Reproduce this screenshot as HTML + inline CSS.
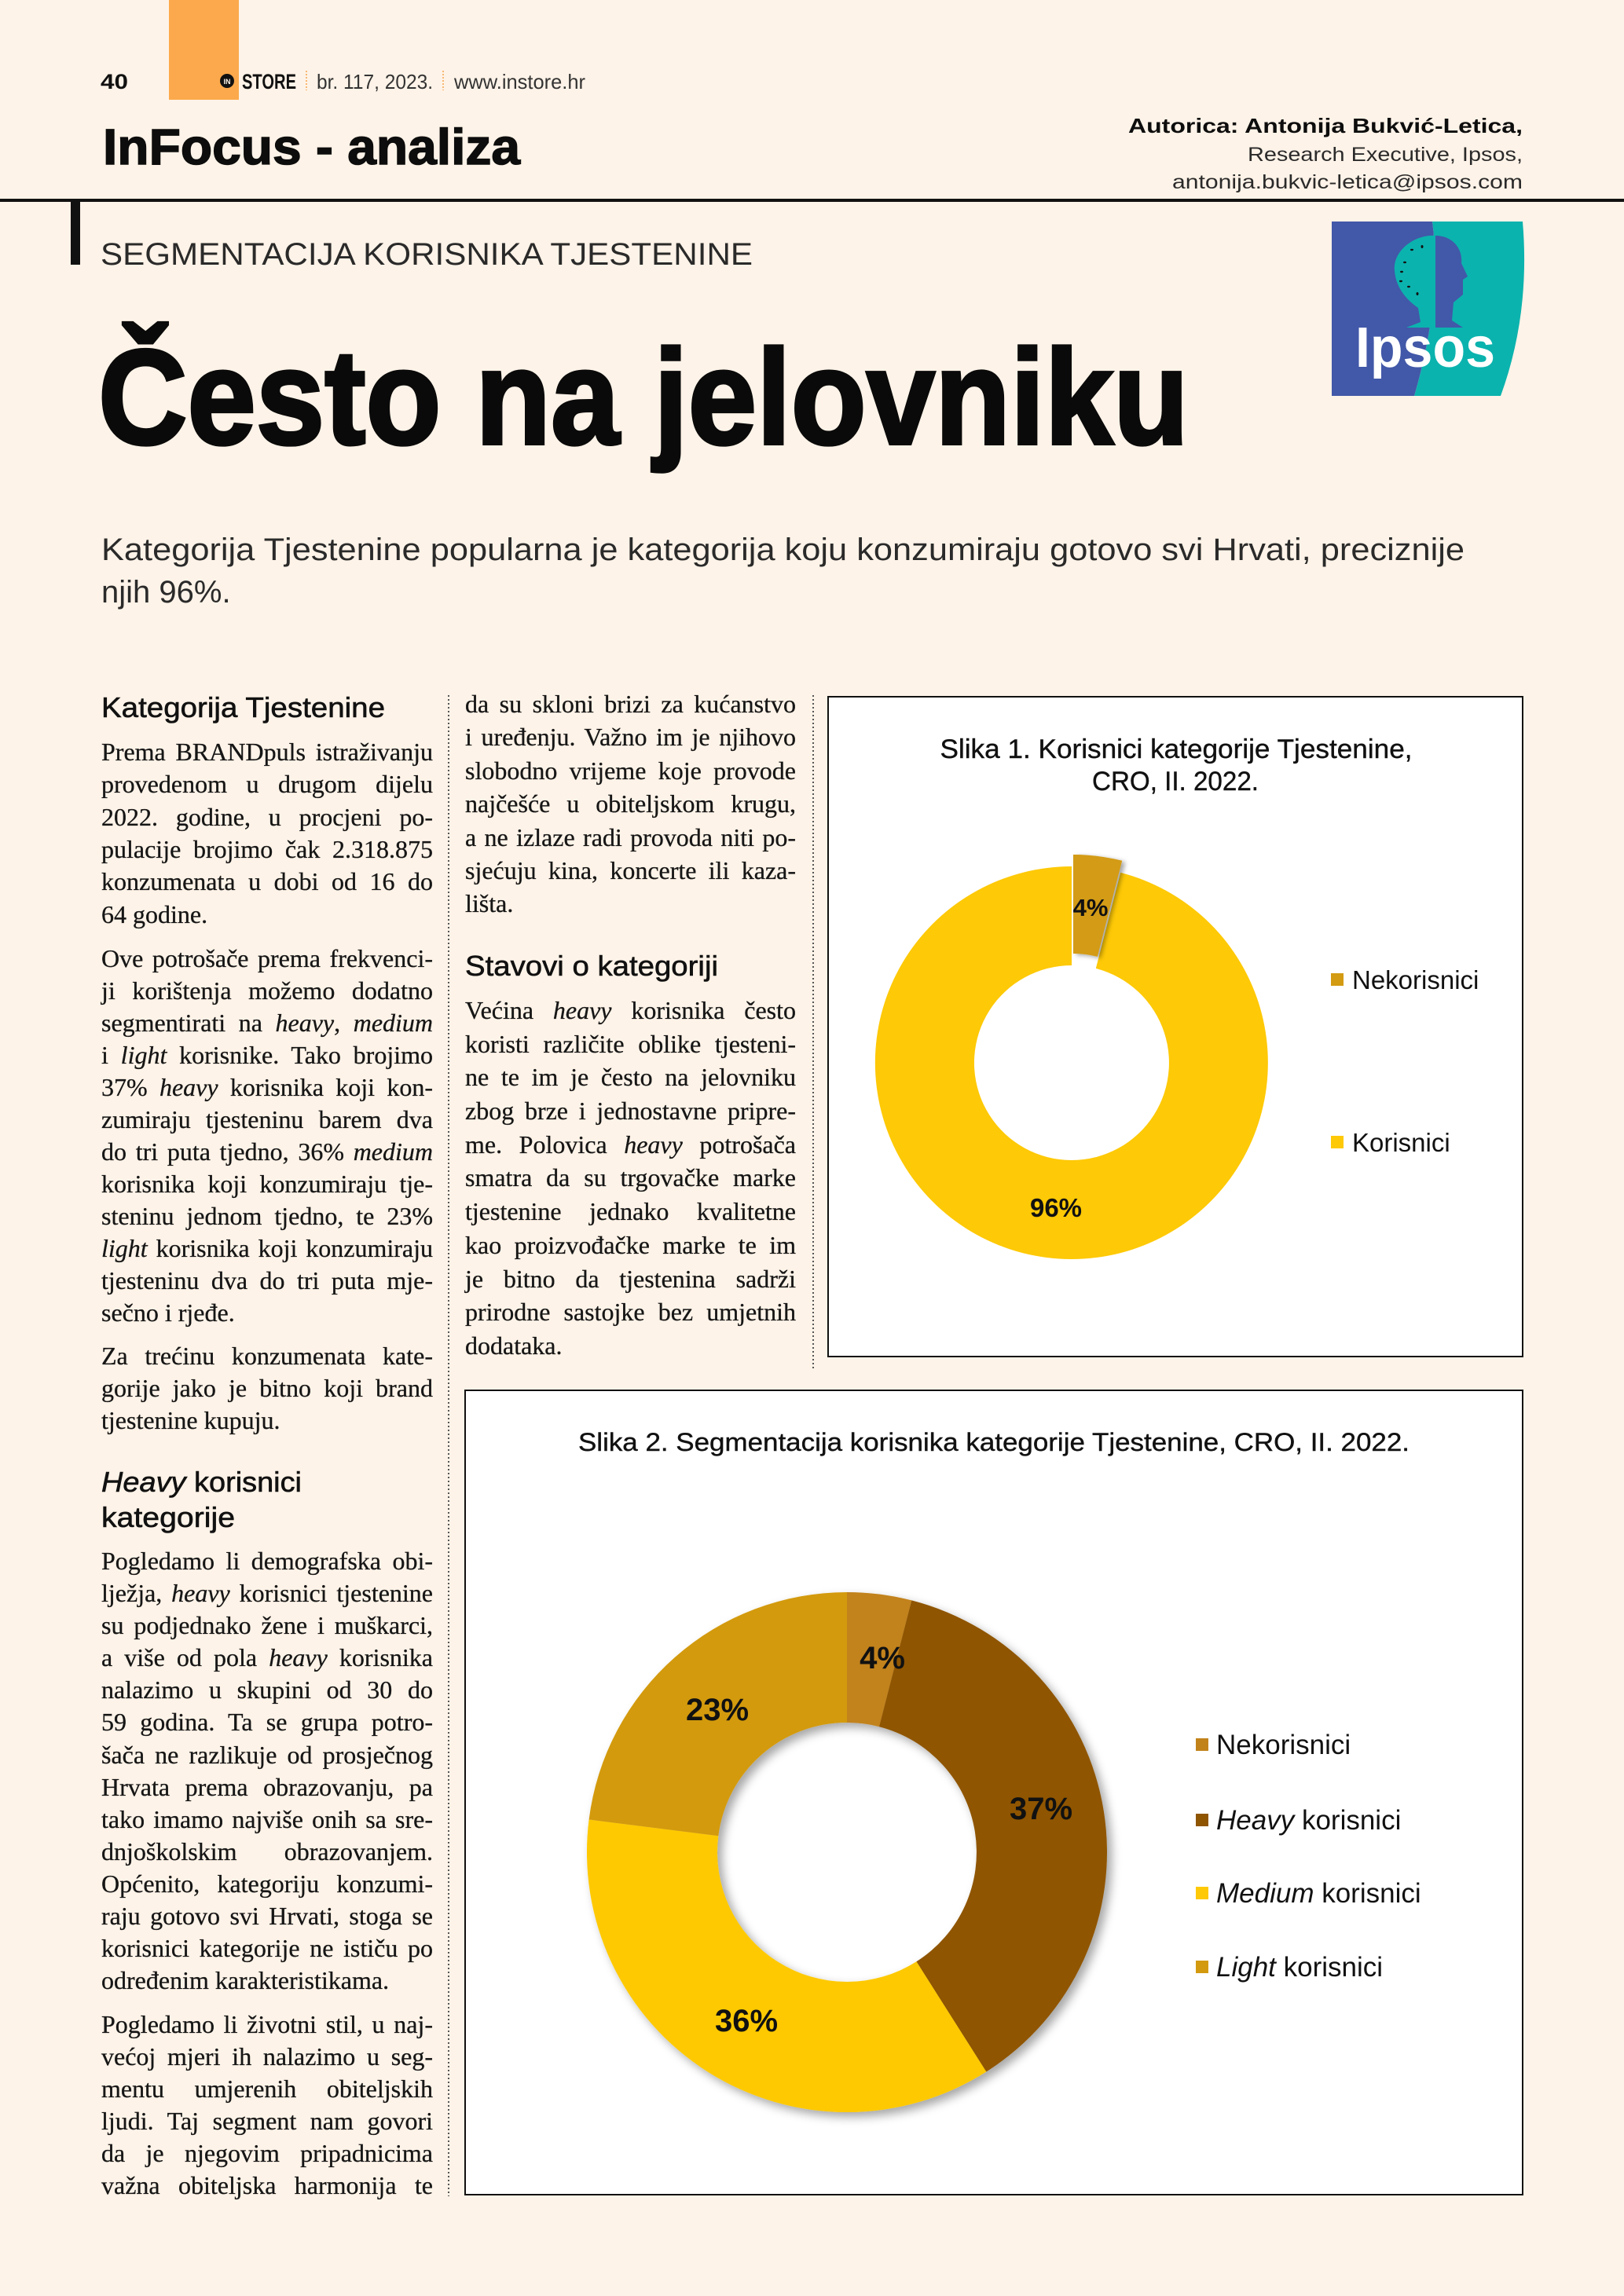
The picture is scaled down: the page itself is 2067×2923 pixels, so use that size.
<!DOCTYPE html>
<html>
<head>
<meta charset="utf-8">
<style>
html,body{margin:0;padding:0;background:#FEF3E8;}
#page{position:relative;width:2067px;height:2923px;overflow:hidden;background:#FEF3E8;}
svg{position:absolute;left:0;top:0;}
.t{position:absolute;font-family:"Liberation Serif",serif;font-size:32px;line-height:32px;white-space:nowrap;color:#161616;-webkit-text-stroke:0.3px #161616;}
.c1{left:129px;width:422px;}
.c2{left:592px;width:421px;}
.j{text-align:justify;text-align-last:justify;}
</style>
</head>
<body>
<div id="page">
<svg width="2067" height="2923" viewBox="0 0 2067 2923" xmlns="http://www.w3.org/2000/svg">
<defs>
<filter id="sh" x="-20%" y="-20%" width="140%" height="140%">
<feDropShadow dx="6" dy="6" stdDeviation="6" flood-color="#000" flood-opacity="0.35"/>
</filter>
<filter id="sh2" x="-30%" y="-30%" width="160%" height="160%">
<feDropShadow dx="4" dy="2" stdDeviation="3" flood-color="#000" flood-opacity="0.35"/>
</filter>
</defs>
<rect x="0" y="0" width="2067" height="2923" fill="#FEF3E8"/>

<!-- header -->
<rect x="215" y="0" width="89" height="127" fill="#FBA94C"/>
<text x="128" y="113" font-family="Liberation Sans, sans-serif" font-weight="bold" font-size="27" textLength="35" lengthAdjust="spacingAndGlyphs" fill="#111">40</text>
<circle cx="289" cy="103" r="9" fill="#111"/>
<text x="289" y="107" font-family="Liberation Sans, sans-serif" font-weight="bold" font-size="9" text-anchor="middle" fill="#FEF3E8">IN</text>
<text x="308" y="113" font-family="Liberation Sans, sans-serif" font-weight="bold" font-size="27" textLength="69" lengthAdjust="spacingAndGlyphs" fill="#111">STORE</text>
<line x1="390" y1="90" x2="390" y2="115" stroke="#F5A54A" stroke-width="1.5" stroke-dasharray="2,2"/>
<text x="403" y="113" font-family="Liberation Sans, sans-serif" font-size="26" textLength="148" lengthAdjust="spacingAndGlyphs" fill="#333">br. 117, 2023.</text>
<line x1="564" y1="90" x2="564" y2="115" stroke="#F5A54A" stroke-width="1.5" stroke-dasharray="2,2"/>
<text x="578" y="113" font-family="Liberation Sans, sans-serif" font-size="26" textLength="167" lengthAdjust="spacingAndGlyphs" fill="#333">www.instore.hr</text>

<text x="131" y="209" font-family="Liberation Sans, sans-serif" font-weight="bold" font-size="64" textLength="531" lengthAdjust="spacingAndGlyphs" fill="#0d0d0d" stroke="#0d0d0d" stroke-width="1.5">InFocus - analiza</text>

<text x="1938" y="169" text-anchor="end" font-family="Liberation Sans, sans-serif" font-weight="bold" font-size="26" textLength="502" lengthAdjust="spacingAndGlyphs" fill="#0d0d0d">Autorica: Antonija Bukvić-Letica,</text>
<text x="1938" y="205" text-anchor="end" font-family="Liberation Sans, sans-serif" font-size="25" textLength="350" lengthAdjust="spacingAndGlyphs" fill="#2a2a2a">Research Executive, Ipsos,</text>
<text x="1938" y="240" text-anchor="end" font-family="Liberation Sans, sans-serif" font-size="25" textLength="446" lengthAdjust="spacingAndGlyphs" fill="#2a2a2a">antonija.bukvic-letica@ipsos.com</text>

<rect x="0" y="253" width="2067" height="4" fill="#111"/>
<rect x="90" y="255" width="12" height="82" fill="#111"/>

<text x="128" y="337" font-family="Liberation Sans, sans-serif" font-size="40" textLength="830" lengthAdjust="spacingAndGlyphs" fill="#2a2a2a">SEGMENTACIJA KORISNIKA TJESTENINE</text>

<text x="125" y="565" font-family="Liberation Sans, sans-serif" font-weight="bold" font-size="172" textLength="1388" lengthAdjust="spacingAndGlyphs" fill="#0a0a0a" stroke="#0a0a0a" stroke-width="4">Često na jelovniku</text>

<!-- Ipsos logo -->
<path d="M1823,282 L1938,282 Q1948,400 1910,504 L1800,504 Q1836,380 1823,282 Z" fill="#0BB3AE"/>
<path d="M1695,282 L1823,282 Q1836,380 1800,504 L1695,504 Z" fill="#4258A8"/>
<path d="M1827,300 C1800,298 1772,320 1775,345 C1777,370 1795,385 1805,392 L1808,410 L1790,417 L1827,417 Z" fill="#0BB3AE"/>
<path d="M1827,300 C1850,300 1862,318 1860,335 L1868,352 L1862,356 L1862,375 L1850,385 L1848,408 L1862,417 L1827,417 Z" fill="#4258A8"/>
<ellipse cx="1797" cy="318" rx="2" ry="1.2" fill="#111"/>
<ellipse cx="1810" cy="314" rx="1.5" ry="2" fill="#111"/>
<ellipse cx="1788" cy="334" rx="2" ry="1.2" fill="#111"/>
<ellipse cx="1784" cy="346" rx="2" ry="1.2" fill="#111"/>
<ellipse cx="1783" cy="358" rx="2" ry="1.2" fill="#111"/>
<ellipse cx="1793" cy="365" rx="2" ry="1.2" fill="#111"/>
<ellipse cx="1804" cy="374" rx="1.5" ry="2" fill="#111"/>
<text x="1725" y="467" font-family="Liberation Sans, sans-serif" font-weight="bold" font-size="72" textLength="178" lengthAdjust="spacingAndGlyphs" fill="#ffffff">Ipsos</text>

<!-- lead -->
<text x="129" y="713" font-family="Liberation Sans, sans-serif" font-size="40" textLength="1735" lengthAdjust="spacingAndGlyphs" fill="#2a2a2a">Kategorija Tjestenine popularna je kategorija koju konzumiraju gotovo svi Hrvati, preciznije</text>
<text x="129" y="767" font-family="Liberation Sans, sans-serif" font-size="40" fill="#2a2a2a">njih 96%.</text>

<!-- headings -->
<text x="129" y="913" font-family="Liberation Sans, sans-serif" font-size="36" textLength="361" lengthAdjust="spacingAndGlyphs" fill="#111" stroke="#111" stroke-width="0.6">Kategorija Tjestenine</text>
<text x="592" y="1242" font-family="Liberation Sans, sans-serif" font-size="36" textLength="322" lengthAdjust="spacingAndGlyphs" fill="#111" stroke="#111" stroke-width="0.6">Stavovi o kategoriji</text>
<text x="129" y="1899" font-family="Liberation Sans, sans-serif" font-size="36" textLength="255" lengthAdjust="spacingAndGlyphs" fill="#111" stroke="#111" stroke-width="0.6"><tspan font-style="italic">Heavy</tspan> korisnici</text>
<text x="129" y="1944" font-family="Liberation Sans, sans-serif" font-size="36" textLength="170" lengthAdjust="spacingAndGlyphs" fill="#111" stroke="#111" stroke-width="0.6">kategorije</text>

<!-- column dotted dividers -->
<line x1="571" y1="885" x2="571" y2="2796" stroke="#555" stroke-width="2" stroke-dasharray="2,3"/>
<line x1="1035" y1="885" x2="1035" y2="1743" stroke="#555" stroke-width="2" stroke-dasharray="2,3"/>

<!-- Chart 1 -->
<rect x="1054" y="887" width="884" height="840" fill="#ffffff" stroke="#111" stroke-width="2"/>
<text x="1497" y="965" text-anchor="middle" font-family="Liberation Sans, sans-serif" font-size="34" textLength="601" lengthAdjust="spacingAndGlyphs" fill="#111" stroke="#111" stroke-width="0.4">Slika 1. Korisnici kategorije Tjestenine,</text>
<text x="1496" y="1006" text-anchor="middle" font-family="Liberation Sans, sans-serif" font-size="34" textLength="212" lengthAdjust="spacingAndGlyphs" fill="#111" stroke="#111" stroke-width="0.4">CRO, II. 2022.</text>
<path d="M1426.2,1110.9 A250,250 0 1 1 1364,1103 L1364,1229 A124,124 0 1 0 1394.8,1232.9 Z" fill="#FEC906"/>
<path d="M1366,1088 A250,250 0 0 1 1428.2,1095.8 L1396.8,1217.9 A124,124 0 0 0 1366,1214 Z" fill="#D39B12" filter="url(#sh2)"/>
<text x="1388" y="1166" text-anchor="middle" font-family="Liberation Sans, sans-serif" font-weight="bold" font-size="31" fill="#111">4%</text>
<text x="1344" y="1549" text-anchor="middle" font-family="Liberation Sans, sans-serif" font-weight="bold" font-size="33" fill="#111">96%</text>
<rect x="1694" y="1239" width="16" height="16" fill="#D39B12"/>
<text x="1721" y="1259" font-family="Liberation Sans, sans-serif" font-size="33" fill="#111">Nekorisnici</text>
<rect x="1694" y="1446" width="16" height="16" fill="#FEC906"/>
<text x="1721" y="1466" font-family="Liberation Sans, sans-serif" font-size="33" fill="#111">Korisnici</text>

<!-- Chart 2 -->
<rect x="592" y="1770" width="1346" height="1024" fill="#ffffff" stroke="#111" stroke-width="2"/>
<text x="1265" y="1847" text-anchor="middle" font-family="Liberation Sans, sans-serif" font-size="32" textLength="1058" lengthAdjust="spacingAndGlyphs" fill="#111" stroke="#111" stroke-width="0.4">Slika 2. Segmentacija korisnika kategorije Tjestenine, CRO, II. 2022.</text>
<g filter="url(#sh)">
<path d="M1078,2027 A331,331 0 0 1 1160.3,2037.4 L1119.0,2198.2 A165,165 0 0 0 1078,2193 Z" fill="#C2821A"/>
<path d="M1160.3,2037.4 A331,331 0 0 1 1255.3,2637.5 L1166.4,2497.3 A165,165 0 0 0 1119.0,2198.2 Z" fill="#8F5500"/>
<path d="M1255.3,2637.5 A331,331 0 0 1 749.6,2316.5 L914.3,2337.3 A165,165 0 0 0 1166.4,2497.3 Z" fill="#FEC906"/>
<path d="M749.6,2316.5 A331,331 0 0 1 1078,2027 L1078,2193 A165,165 0 0 0 914.3,2337.3 Z" fill="#D39A10"/>
</g>
<text x="1123" y="2124" text-anchor="middle" font-family="Liberation Sans, sans-serif" font-weight="bold" font-size="40" fill="#111">4%</text>
<text x="1325" y="2316" text-anchor="middle" font-family="Liberation Sans, sans-serif" font-weight="bold" font-size="40" fill="#111">37%</text>
<text x="913" y="2190" text-anchor="middle" font-family="Liberation Sans, sans-serif" font-weight="bold" font-size="40" fill="#111">23%</text>
<text x="950" y="2586" text-anchor="middle" font-family="Liberation Sans, sans-serif" font-weight="bold" font-size="40" fill="#111">36%</text>
<rect x="1522" y="2213" width="16" height="16" fill="#C2821A"/>
<text x="1548" y="2233" font-family="Liberation Sans, sans-serif" font-size="35" fill="#111">Nekorisnici</text>
<rect x="1522" y="2309" width="16" height="16" fill="#8F5500"/>
<text x="1548" y="2329" font-family="Liberation Sans, sans-serif" font-size="35" fill="#111"><tspan font-style="italic">Heavy</tspan> korisnici</text>
<rect x="1522" y="2402" width="16" height="16" fill="#FEC906"/>
<text x="1548" y="2422" font-family="Liberation Sans, sans-serif" font-size="35" fill="#111"><tspan font-style="italic">Medium</tspan> korisnici</text>
<rect x="1522" y="2496" width="16" height="16" fill="#D39A10"/>
<text x="1548" y="2516" font-family="Liberation Sans, sans-serif" font-size="35" fill="#111"><tspan font-style="italic">Light</tspan> korisnici</text>
</svg>

<!-- Column 1 -->
<div class="t c1 j" style="top:941px">Prema BRANDpuls istraživanju</div>
<div class="t c1 j" style="top:982px">provedenom u drugom dijelu</div>
<div class="t c1 j" style="top:1024px">2022. godine, u procjeni po-</div>
<div class="t c1 j" style="top:1065px">pulacije brojimo čak 2.318.875</div>
<div class="t c1 j" style="top:1106px">konzumenata u dobi od 16 do</div>
<div class="t c1" style="top:1148px">64 godine.</div>

<div class="t c1 j" style="top:1204px">Ove potrošače prema frekvenci-</div>
<div class="t c1 j" style="top:1245px">ji korištenja možemo dodatno</div>
<div class="t c1 j" style="top:1286px">segmentirati na <i>heavy</i>, <i>medium</i></div>
<div class="t c1 j" style="top:1327px">i <i>light</i> korisnike. Tako brojimo</div>
<div class="t c1 j" style="top:1368px">37% <i>heavy</i> korisnika koji kon-</div>
<div class="t c1 j" style="top:1409px">zumiraju tjesteninu barem dva</div>
<div class="t c1 j" style="top:1450px">do tri puta tjedno, 36% <i>medium</i></div>
<div class="t c1 j" style="top:1491px">korisnika koji konzumiraju tje-</div>
<div class="t c1 j" style="top:1532px">steninu jednom tjedno, te 23%</div>
<div class="t c1 j" style="top:1573px"><i>light</i> korisnika koji konzumiraju</div>
<div class="t c1 j" style="top:1614px">tjesteninu dva do tri puta mje-</div>
<div class="t c1" style="top:1655px">sečno i rjeđe.</div>

<div class="t c1 j" style="top:1710px">Za trećinu konzumenata kate-</div>
<div class="t c1 j" style="top:1751px">gorije jako je bitno koji brand</div>
<div class="t c1" style="top:1792px">tjestenine kupuju.</div>

<div class="t c1 j" style="top:1971px">Pogledamo li demografska obi-</div>
<div class="t c1 j" style="top:2012px">lježja, <i>heavy</i> korisnici tjestenine</div>
<div class="t c1 j" style="top:2053px">su podjednako žene i muškarci,</div>
<div class="t c1 j" style="top:2094px">a više od pola <i>heavy</i> korisnika</div>
<div class="t c1 j" style="top:2135px">nalazimo u skupini od 30 do</div>
<div class="t c1 j" style="top:2176px">59 godina. Ta se grupa potro-</div>
<div class="t c1 j" style="top:2218px">šača ne razlikuje od prosječnog</div>
<div class="t c1 j" style="top:2259px">Hrvata prema obrazovanju, pa</div>
<div class="t c1 j" style="top:2300px">tako imamo najviše onih sa sre-</div>
<div class="t c1 j" style="top:2341px">dnjoškolskim obrazovanjem.</div>
<div class="t c1 j" style="top:2382px">Općenito, kategoriju konzumi-</div>
<div class="t c1 j" style="top:2423px">raju gotovo svi Hrvati, stoga se</div>
<div class="t c1 j" style="top:2464px">korisnici kategorije ne ističu po</div>
<div class="t c1" style="top:2505px">određenim karakteristikama.</div>

<div class="t c1 j" style="top:2561px">Pogledamo li životni stil, u naj-</div>
<div class="t c1 j" style="top:2602px">većoj mjeri ih nalazimo u seg-</div>
<div class="t c1 j" style="top:2643px">mentu umjerenih obiteljskih</div>
<div class="t c1 j" style="top:2684px">ljudi. Taj segment nam govori</div>
<div class="t c1 j" style="top:2725px">da je njegovim pripadnicima</div>
<div class="t c1 j" style="top:2766px">važna obiteljska harmonija te</div>

<!-- Column 2 -->
<div class="t c2 j" style="top:880px">da su skloni brizi za kućanstvo</div>
<div class="t c2 j" style="top:922px">i uređenju. Važno im je njihovo</div>
<div class="t c2 j" style="top:965px">slobodno vrijeme koje provode</div>
<div class="t c2 j" style="top:1007px">najčešće u obiteljskom krugu,</div>
<div class="t c2 j" style="top:1050px">a ne izlaze radi provoda niti po-</div>
<div class="t c2 j" style="top:1092px">sjećuju kina, koncerte ili kaza-</div>
<div class="t c2" style="top:1134px">lišta.</div>

<div class="t c2 j" style="top:1270px">Većina <i>heavy</i> korisnika često</div>
<div class="t c2 j" style="top:1313px">koristi različite oblike tjesteni-</div>
<div class="t c2 j" style="top:1355px">ne te im je često na jelovniku</div>
<div class="t c2 j" style="top:1398px">zbog brze i jednostavne pripre-</div>
<div class="t c2 j" style="top:1441px">me. Polovica <i>heavy</i> potrošača</div>
<div class="t c2 j" style="top:1483px">smatra da su trgovačke marke</div>
<div class="t c2 j" style="top:1526px">tjestenine jednako kvalitetne</div>
<div class="t c2 j" style="top:1569px">kao proizvođačke marke te im</div>
<div class="t c2 j" style="top:1612px">je bitno da tjestenina sadrži</div>
<div class="t c2 j" style="top:1654px">prirodne sastojke bez umjetnih</div>
<div class="t c2" style="top:1697px">dodataka.</div>
</div>
</body>
</html>
